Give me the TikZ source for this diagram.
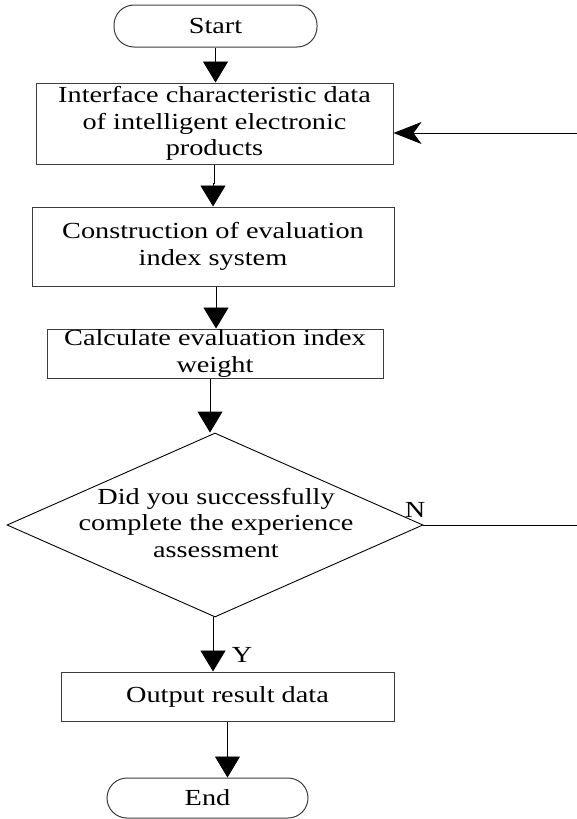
\documentclass[tikz,border=0pt]{standalone}
\usepackage{fontspec}
\setmainfont{Liberation Serif}[FakeStretch=1.23]
\usetikzlibrary{arrows.meta,shapes.geometric}
\definecolor{edge}{RGB}{60,60,60}
\begin{document}
\begin{tikzpicture}[x=1pt,y=-1pt,
  txt/.style={font=\fontsize{23}{26.7}\selectfont, align=center, inner sep=0pt},
  boxnode/.style={draw=edge, line width=1pt, rectangle, inner sep=0pt, txt},
  term/.style={boxnode, rounded corners=20pt},
  decision/.style={draw=black, line width=0.9pt, diamond, inner sep=0pt},
  arr/.style={line width=0.9pt, -{Triangle[width=25pt,length=21pt]}},
  back/.style={line width=0.9pt, -{Stealth[width=22pt,length=28pt,inset=8pt]}},
]
\useasboundingbox (0,0) rectangle (577,819);

\node[term, minimum width=203pt, minimum height=42pt] (start) at (215.5,26) {Start};
\node[boxnode, minimum width=357pt, minimum height=81pt] (b1) at (214.5,123.5) {Interface characteristic data\\of intelligent electronic\\products};
\node[boxnode, minimum width=362pt, minimum height=79pt] (b2) at (213,246.5) {Construction of evaluation\\index system};
\node[boxnode, minimum width=336pt, minimum height=49pt] (b3) at (215,353.5) {Calculate evaluation index\\weight};
\node[decision, minimum width=416pt, minimum height=184pt] (dec) at (215,525) {};
\node[txt] (dect) at (216,523) {Did you successfully\\complete the experience\\assessment};
\node[txt] (nlab) at (415,510) {N};
\node[boxnode, minimum width=333pt, minimum height=49pt] (b4) at (227.5,696.5) {Output result data};
\node[txt] (ylab) at (242,655) {Y};
\node[term, minimum width=201pt, minimum height=40pt] (end) at (207.5,798) {End};
\coordinate (nout) at (577,525);
\coordinate (fbin) at (577,133);

\draw[arr] (start.south) -- (start.south |- b1.north);
\draw[arr] (b1.south) -- ++(0,19) -| ([xshift=-1.5pt]b1.south |- b2.north);
\draw[arr] ([xshift=3pt]b2.south) -- ([xshift=3pt]b2.south |- b3.north);
\draw[arr] ([xshift=-5pt]b3.south) -- ([xshift=-5pt]b3.south |- dec.north);
\draw[line width=0.9pt] (dec.east) -- (nout);
\draw[back] (fbin) -- (fbin -| b1.east);
\draw[arr] ([xshift=-2pt]dec.south) -- ([xshift=-2pt]dec.south |- b4.north);
\draw[arr] (b4.south) -- (b4.south |- end.north);
\end{tikzpicture}
\end{document}
